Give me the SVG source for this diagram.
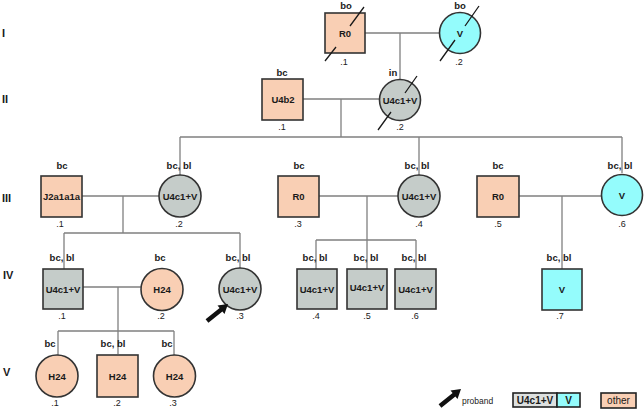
<svg xmlns="http://www.w3.org/2000/svg" width="644" height="409" viewBox="0 0 644 409">
<style>
text{font-family:"Liberation Sans",Arial,sans-serif;fill:#1a1a1a}
.nl{font-size:9.5px;font-weight:bold;text-anchor:middle}
.lb{font-size:9.5px;font-weight:bold;text-anchor:middle}
.nm{font-size:9px;text-anchor:middle}
.gen{font-size:11px;font-weight:bold}
.o{fill:#F9CFB4;stroke:#333;stroke-width:1.6}
.g{fill:#C5CCC9;stroke:#333;stroke-width:1.6}
.c{fill:#94FCFC;stroke:#333;stroke-width:1.6}
.ln{stroke:#808080;stroke-width:1.3;fill:none}
.sl{stroke:#1a1a1a;stroke-width:1.3;fill:none}
</style>
<defs>
<polygon id="arrow" points="205.6,319.3 219.6,308 217.5,305.4 228,304 224.5,314 222.4,311.4 208.4,322.7" fill="#111"/>
</defs>
<rect width="644" height="409" fill="#fff"/>
<g id="gen-labels">
<text class="gen" x="2" y="37">I</text>
<text class="gen" x="2" y="103">II</text>
<text class="gen" x="2" y="202">III</text>
<text class="gen" x="3" y="279">IV</text>
<text class="gen" x="3" y="376">V</text>
</g>
<g id="connectors">
<path class="ln" d="M365 33H439M400 33V79"/>
<path class="ln" d="M303 99H379M341 99V137M180 137H622M180 137V175M419 137V175M622 137V173"/>
<path class="ln" d="M82 196H159M123 196V233M64 233H240M64 233V269M240 233V268"/>
<path class="ln" d="M319 196H398M367 196V269M316 240H416M316 240V269M416 240V269"/>
<path class="ln" d="M519 196H601M562 196V269"/>
<path class="ln" d="M83 287H141M118 287V331M58 331H174M58 331V355M118 331V354M174 331V355"/>
</g>
<g id="I1">
<rect class="o" x="325" y="13" width="40" height="40"/>
<text class="nl" x="345" y="37">R0</text>
<path class="sl" d="M350 26L364 7M336 47L325 61"/>
<text class="lb" x="346" y="9">bo</text>
<text class="nm" x="344" y="65">.1</text>
</g>
<g id="I2">
<circle class="c" cx="460" cy="33" r="20.5"/>
<text class="nl" x="460" y="37">V</text>
<path class="sl" d="M465 26L479 6M455 40L440 61"/>
<text class="lb" x="460" y="9">bo</text>
<text class="nm" x="459" y="65">.2</text>
</g>
<g id="II1">
<rect class="o" x="262" y="79" width="41" height="41"/>
<text class="nl" x="283" y="103">U4b2</text>
<text class="lb" x="282" y="76">bc</text>
<text class="nm" x="282" y="130">.1</text>
</g>
<g id="II2">
<circle class="g" cx="400" cy="100" r="20.5"/>
<text class="nl" x="400" y="104">U4c1+V</text>
<path class="sl" d="M405 93L417 76M391 112L378 130"/>
<text class="lb" x="393" y="76">in</text>
<text class="nm" x="400" y="130">.2</text>
</g>
<g id="III1">
<rect class="o" x="41" y="176" width="41" height="41"/>
<text class="nl" x="61.5" y="200">J2a1a1a</text>
<text class="lb" x="62" y="169">bc</text>
<text class="nm" x="60" y="227">.1</text>
</g>
<g id="III2">
<circle class="g" cx="180" cy="196" r="21"/>
<text class="nl" x="180" y="200">U4c1+V</text>
<text class="lb" x="179" y="169">bc, bl</text>
<text class="nm" x="179" y="227">.2</text>
</g>
<g id="III3">
<rect class="o" x="278" y="176" width="41" height="41"/>
<text class="nl" x="298.5" y="200">R0</text>
<text class="lb" x="299" y="169">bc</text>
<text class="nm" x="298" y="227">.3</text>
</g>
<g id="III4">
<circle class="g" cx="419" cy="196" r="21" stroke-width="2.2"/>
<text class="nl" x="419" y="200">U4c1+V</text>
<text class="lb" x="417" y="169">bc, bl</text>
<text class="nm" x="419" y="227">.4</text>
</g>
<g id="III5">
<rect class="o" x="477" y="176" width="42" height="41"/>
<text class="nl" x="498" y="200">R0</text>
<text class="lb" x="498" y="169">bc</text>
<text class="nm" x="498" y="227">.5</text>
</g>
<g id="III6">
<circle class="c" cx="622" cy="195" r="20.5"/>
<text class="nl" x="622" y="199">V</text>
<text class="lb" x="620" y="169">bc, bl</text>
<text class="nm" x="622" y="227">.6</text>
</g>
<g id="IV1">
<rect class="g" x="43" y="269" width="40" height="40"/>
<text class="nl" x="63" y="292.5">U4c1+V</text>
<text class="lb" x="62" y="261">bc, bl</text>
<text class="nm" x="62" y="319">.1</text>
</g>
<g id="IV2">
<circle class="o" cx="162" cy="289.5" r="21"/>
<text class="nl" x="162" y="293">H24</text>
<text class="lb" x="160" y="261">bc</text>
<text class="nm" x="161" y="319">.2</text>
</g>
<g id="IV3">
<circle class="g" cx="240" cy="289" r="21"/>
<text class="nl" x="240" y="292.5">U4c1+V</text>
<text class="lb" x="238" y="261">bc, bl</text>
<text class="nm" x="240" y="319">.3</text>
<use href="#arrow"/>
</g>
<g id="IV4">
<rect class="g" x="297" y="269" width="40" height="40"/>
<text class="nl" x="317" y="292.5">U4c1+V</text>
<text class="lb" x="315" y="261">bc, bl</text>
<text class="nm" x="316" y="319">.4</text>
</g>
<g id="IV5">
<rect class="g" x="347" y="269" width="40" height="40"/>
<text class="nl" x="367" y="291">U4c1+V</text>
<text class="lb" x="366" y="261">bc, bl</text>
<text class="nm" x="367" y="319">.5</text>
</g>
<g id="IV6">
<rect class="g" x="395" y="269" width="41" height="40"/>
<text class="nl" x="415.5" y="292.5">U4c1+V</text>
<text class="lb" x="414" y="261">bc, bl</text>
<text class="nm" x="415" y="319">.6</text>
</g>
<g id="IV7">
<rect class="c" x="542" y="269" width="40" height="41"/>
<text class="nl" x="562" y="293">V</text>
<text class="lb" x="559" y="261">bc, bl</text>
<text class="nm" x="560" y="319">.7</text>
</g>
<g id="V1">
<circle class="o" cx="57" cy="376" r="21"/>
<text class="nl" x="57" y="379.5">H24</text>
<text class="lb" x="50" y="347">bc</text>
<text class="nm" x="55" y="406">.1</text>
</g>
<g id="V2">
<rect class="o" x="97" y="355" width="41" height="42"/>
<text class="nl" x="117.5" y="379.5">H24</text>
<text class="lb" x="113" y="347">bc, bl</text>
<text class="nm" x="117" y="406">.2</text>
</g>
<g id="V3">
<circle class="o" cx="174.5" cy="376" r="21"/>
<text class="nl" x="174.5" y="379.5">H24</text>
<text class="lb" x="167" y="347">bc</text>
<text class="nm" x="173" y="406">.3</text>
</g>
<g id="legend">
<use href="#arrow" transform="translate(233,85)"/>
<text x="462" y="403.5" font-size="8.5">proband</text>
<rect x="513" y="393" width="44" height="14" fill="#DDE0DF" stroke="#222" stroke-width="1.6"/>
<rect x="557" y="393" width="23" height="14" fill="#94FCFC" stroke="#222" stroke-width="1.6"/>
<text x="535" y="403.5" font-size="10" font-weight="bold" text-anchor="middle">U4c1+V</text>
<text x="568.5" y="403.5" font-size="10" font-weight="bold" text-anchor="middle">V</text>
<rect x="601" y="393" width="35" height="15" fill="#F9CFB4" stroke="#222" stroke-width="1.6"/>
<text x="618.5" y="404" font-size="10" text-anchor="middle">other</text>
</g>
</svg>
